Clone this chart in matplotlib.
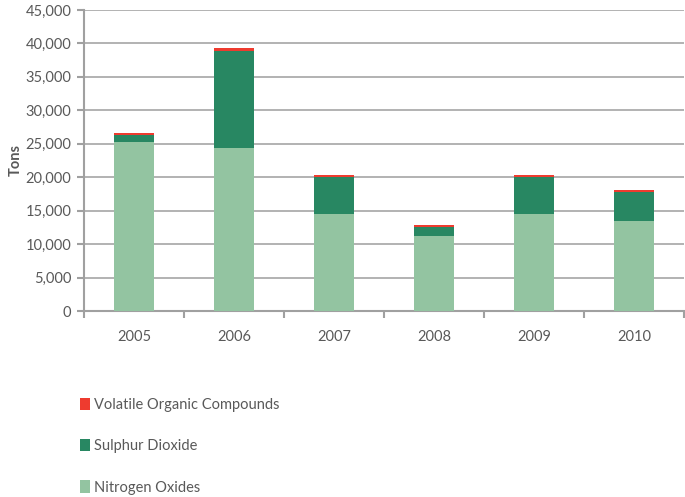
import matplotlib.pyplot as plt
import numpy as np
from matplotlib.ticker import FuncFormatter, FixedLocator

years = ["2005", "2006", "2007", "2008", "2009", "2010"]
nitrogen_oxides = [25300, 24400, 14500, 11200, 14500, 13450]
sulphur_dioxide = [1050, 14500, 5500, 1350, 5500, 4380]
voc = [250, 350, 300, 300, 300, 260]

c_nox = "#93c4a1"
c_so2 = "#288762"
c_voc = "#ee3b2f"
grey = "#595959"

plt.rcParams['font.family'] = ['Lato', 'DejaVu Sans']

fig = plt.figure(figsize=(6.85, 4.97), dpi=100)
ax = fig.add_axes([0.1226, 0.3742, 0.876, 0.6058])

x = np.arange(len(years))
b1 = ax.bar(x, nitrogen_oxides, 0.4, color=c_nox, label="Nitrogen Oxides", zorder=3)
b2 = ax.bar(x, sulphur_dioxide, 0.4, bottom=nitrogen_oxides, color=c_so2,
            label="Sulphur Dioxide", zorder=3)
base = np.array(nitrogen_oxides) + np.array(sulphur_dioxide)
b3 = ax.bar(x, voc, 0.4, bottom=base, color=c_voc,
            label="Volatile Organic Compounds", zorder=3)

ax.set_xlim(-0.5, 5.5)
ax.set_ylim(0, 45000)
ax.set_yticks(np.arange(0, 45001, 5000))
ax.yaxis.set_major_formatter(FuncFormatter(lambda v, p: f"{int(v):,}"))
ax.set_xticks(x)
ax.set_xticklabels(years)
ax.xaxis.set_minor_locator(FixedLocator(np.arange(-0.5, 6, 1)))
ax.tick_params(axis='x', which='major', length=0, pad=14, labelsize=10.5, labelcolor=grey)
ax.tick_params(axis='x', which='minor', length=5, color="#a0a0a0", width=1.5)
ax.tick_params(axis='y', length=5, color="#a0a0a0", width=1.5, labelsize=10.5,
               labelcolor=grey, pad=4)

ax.grid(axis='y', color="#a6a6a6", linewidth=1.2, zorder=0)
for s in ["top", "right"]:
    ax.spines[s].set_visible(False)
for s in ["left", "bottom"]:
    ax.spines[s].set_color("#a0a0a0")
    ax.spines[s].set_linewidth(1.5)

ax.set_ylabel("Tons", fontweight="bold", fontsize=10.5, color=grey, labelpad=2)

leg = fig.legend([b3, b2, b1], ["Volatile Organic Compounds", "Sulphur Dioxide", "Nitrogen Oxides"],
                 loc="upper left", bbox_to_anchor=(0.097, 0.225), frameon=False,
                 handlelength=0.7, handleheight=0.9, handletextpad=0.3,
                 labelspacing=1.85, fontsize=10.5)
for t in leg.get_texts():
    t.set_color(grey)

fig.savefig("out.png", dpi=100)
